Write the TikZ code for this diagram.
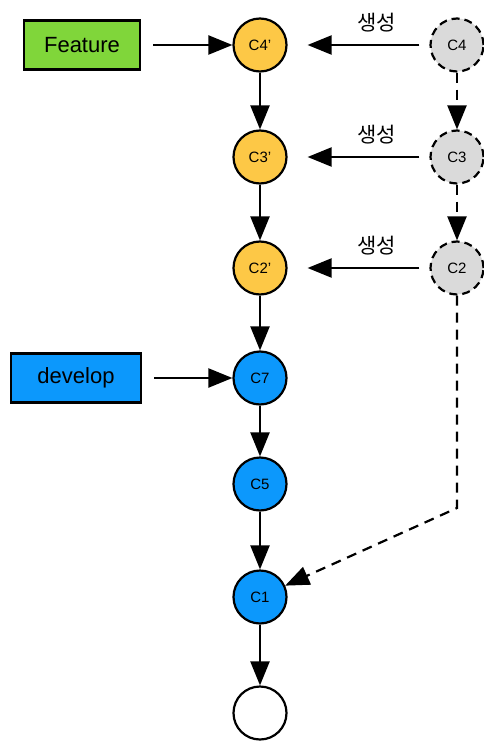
\documentclass[tikz,border=0pt]{standalone}
\usepackage{fontspec}
\setmainfont{Liberation Sans}
\newfontfamily\krfont{Noto Sans CJK KR}
\usetikzlibrary{arrows.meta}
\definecolor{rebased}{RGB}{253,200,70}
\definecolor{oldcommit}{RGB}{218,218,218}
\definecolor{devblue}{RGB}{12,152,252}
\definecolor{featgreen}{RGB}{128,214,58}
\tikzset{
  commit/.style={circle, draw=black, line width=2.2pt, minimum size=53pt, inner sep=0pt, font=\fontsize{15}{15}\selectfont},
  newcommit/.style={commit, fill=rebased},
  oldc/.style={commit, fill=oldcommit, dash pattern=on 8pt off 5pt},
  devc/.style={commit, fill=devblue},
  branch/.style={draw=black, line width=2.2pt, inner sep=0pt, font=\fontsize{22}{22}\selectfont},
  link/.style={line width=2.2pt, -{Triangle[length=24pt,width=19pt]}},
  dlink/.style={link, dash pattern=on 10pt off 7pt},
  lbl/.style={font=\krfont\fontsize{21}{21}\selectfont, above=11pt, pos=0.37, inner sep=1pt}
}
\begin{document}
\begin{tikzpicture}[x=1pt,y=-1pt]
\useasboundingbox (0,0) rectangle (483,741);
% rebased commits
\node[newcommit] (c4p) at (260,45) {C4’};
\node[newcommit] (c3p) at (260,157) {C3’};
\node[newcommit] (c2p) at (260,268) {C2’};
% develop history
\node[devc] (c7) at (260,378) {C7};
\node[devc] (c5) at (260,484) {C5};
\node[devc] (c1) at (260,597) {C1};
\node[commit] (root) at (260,713) {};
% original feature commits
\node[oldc] (c4) at (457,45) {C4};
\node[oldc] (c3) at (457,157) {C3};
\node[oldc] (c2) at (457,268) {C2};
\coordinate (bend) at (457,508);
% branch labels
\node[branch, fill=featgreen, minimum width=116pt, minimum height=49pt] (feat) at (82,45) {Feature};
\node[branch, fill=devblue, minimum width=130pt, minimum height=49pt] (dev) at (76,378) {develop};
% branch pointers
\draw[link, shorten <=12pt] (feat) -- (c4p);
\draw[link, shorten <=12pt] (dev) -- (c7);
% parent links
\draw[link] (c4p) -- (c3p);
\draw[link] (c3p) -- (c2p);
\draw[link] (c2p) -- (c7);
\draw[link] (c7) -- (c5);
\draw[link] (c5) -- (c1);
\draw[link] (c1) -- (root);
\draw[dlink] (c4) -- (c3);
\draw[dlink] (c3) -- (c2);
\draw[dlink] (c2) -- (bend) -- (c1);
% rebase copies
\draw[link, shorten <=10pt, shorten >=20pt] (c4) -- node[lbl] {생성} (c4p);
\draw[link, shorten <=10pt, shorten >=20pt] (c3) -- node[lbl] {생성} (c3p);
\draw[link, shorten <=10pt, shorten >=20pt] (c2) -- node[lbl] {생성} (c2p);
\end{tikzpicture}
\end{document}
